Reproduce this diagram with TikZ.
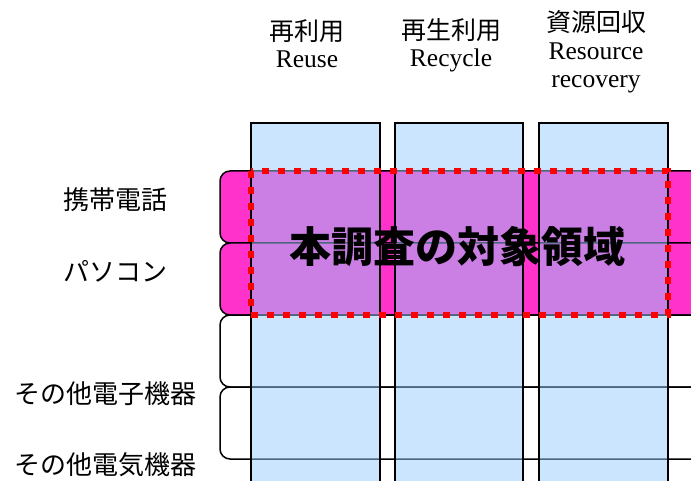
\documentclass[tikz,border=0pt]{standalone}
\usepackage{fontspec}
\setmainfont{Liberation Serif}
\newfontfamily\cjk{Noto Sans CJK JP}
\begin{document}
\begin{tikzpicture}[x=1pt,y=-1pt,
  rowline/.style={draw=black,line width=1.5pt,rounded corners=10pt},
  colbox/.style={draw=black,line width=1.6pt,fill={rgb,255:red,153;green,204;blue,255},fill opacity=0.5},
  lbl/.style={inner sep=0pt,anchor=base,font=\fontsize{26}{30}\selectfont\cjk},
  hdrj/.style={inner sep=0pt,anchor=base,font=\fontsize{25}{28}\selectfont\cjk},
  hdre/.style={inner sep=0pt,anchor=base,font=\fontsize{25.5}{28}\selectfont},
  region/.style={draw=red,line width=6.5pt,dash pattern=on 7pt off 9pt}]
\useasboundingbox (0,0) rectangle (691,481);
\clip (0,0) rectangle (691,481);
\definecolor{rowpink}{RGB}{255,51,204}
% rows
\draw[rowline,fill=rowpink] (705,171) -- (220,171) -- (220,243) -- (705,243);
\draw[rowline,fill=rowpink] (705,243) -- (220,243) -- (220,315) -- (705,315);
\draw[rowline,fill=white] (705,315) -- (220,315) -- (220,387) -- (705,387);
\draw[rowline,fill=white] (705,387) -- (220,387) -- (220,459) -- (705,459);
% columns
\draw[colbox] (251,123) rectangle (380,495);
\draw[colbox] (395,123) rectangle (523,495);
\draw[colbox] (539,123) rectangle (668,495);
% target region
\draw[region] (251,171) rectangle (668,315);
\node[inner sep=0pt,font=\fontsize{42}{46}\selectfont\cjk\bfseries] (main) at (457.5,247) {本調査の対象領域};
% headers
\node[hdrj] (h1j) at (307,41) {再利用};
\node[hdre] (h1e) at (307,68) {Reuse};
\node[hdrj] (h2j) at (451,40) {再生利用};
\node[hdre] (h2e) at (451,67) {Recycle};
\node[hdrj] (h3j) at (596,32) {資源回収};
\node[hdre] (h3e) at (596,60) {Resource};
\node[hdre] (h3e2) at (596,88) {recovery};
% row labels
\node[lbl] (r1) at (115,210) {携帯電話};
\node[lbl] (r2) at (115,281) {パソコン};
\node[lbl] (r3) at (105,403) {その他電子機器};
\node[lbl] (r4) at (105,474) {その他電気機器};
\end{tikzpicture}
\end{document}
